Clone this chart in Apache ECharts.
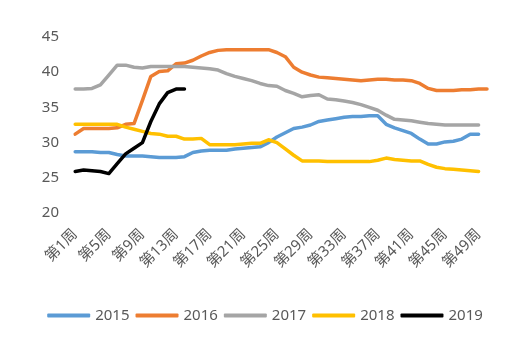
<!DOCTYPE html>
<html>
<head>
<meta charset="utf-8">
<script src="https://cdn.jsdelivr.net/npm/echarts@6/dist/echarts.min.js"></script>
<style>
html,body{margin:0;padding:0;background:#fff;}
#c{width:530px;height:348px;}
</style>
</head>
<body>
<div id="c"></div>
<script>
var weeks = [];
for (var i = 1; i <= 52; i++) weeks.push('第' + i + '周');

var seriesNames = ['2015', '2016', '2017', '2018', '2019'];

var s2015 = [28.7,28.7,28.7,28.6,28.6,28.3,28.1,28.1,28.1,28.0,27.9,27.9,27.9,28.0,28.6,28.8,28.9,28.9,28.9,29.1,29.2,29.3,29.4,30.0,30.8,31.4,32.0,32.2,32.5,33.0,33.2,33.4,33.6,33.7,33.7,33.8,33.8,32.6,32.1,31.7,31.3,30.5,29.8,29.8,30.1,30.2,30.5,31.2,31.2];
var s2016 = [31.2,32.0,32.0,32.0,32.0,32.1,32.6,32.7,36.0,39.4,40.1,40.2,41.2,41.3,41.7,42.3,42.8,43.1,43.2,43.2,43.2,43.2,43.2,43.2,42.8,42.2,40.7,40.0,39.6,39.3,39.2,39.1,39.0,38.9,38.8,38.9,39.0,39.0,38.9,38.9,38.8,38.4,37.7,37.4,37.4,37.4,37.5,37.5,37.6,37.6];
var s2017 = [37.6,37.6,37.7,38.2,39.6,41.0,41.0,40.7,40.6,40.8,40.8,40.8,40.8,40.8,40.7,40.6,40.5,40.3,39.8,39.4,39.1,38.8,38.4,38.1,38.0,37.4,37.0,36.5,36.7,36.8,36.2,36.1,35.9,35.7,35.4,35.0,34.6,33.9,33.3,33.2,33.1,32.9,32.7,32.6,32.5,32.5,32.5,32.5,32.5];
var s2018 = [32.6,32.6,32.6,32.6,32.6,32.6,32.2,31.9,31.6,31.3,31.2,30.9,30.9,30.5,30.5,30.6,29.7,29.7,29.7,29.7,29.8,29.9,29.9,30.4,30.0,29.1,28.2,27.4,27.4,27.4,27.3,27.3,27.3,27.3,27.3,27.3,27.5,27.8,27.6,27.5,27.4,27.4,26.9,26.5,26.3,26.2,26.1,26.0,25.9];
var s2019 = [25.9,26.1,26.0,25.9,25.6,27.0,28.4,29.2,30.0,33.0,35.5,37.1,37.6,37.6];

var yTicks = [20, 25, 30, 35, 40, 45];
var colors = ['#5B9BD5', '#ED7D31', '#A5A5A5', '#FFC000', '#000000'];
var allData = [s2015, s2016, s2017, s2018, s2019];

var FONT = '"Noto Sans", "Noto Sans CJK SC", sans-serif';

var chart = echarts.init(document.getElementById('c'), null, {renderer: 'canvas'});
chart.setOption({
  animation: false,
  backgroundColor: '#ffffff',
  color: colors,
  grid: {left: 71, right: 22, top: 37, bottom: 135, containLabel: false},
  legend: {
    data: seriesNames,
    top: 303,
    left: 'center',
    itemWidth: 43,
    itemHeight: 4,
    itemGap: 6,
    icon: 'roundRect',
    textStyle: {color: '#595959', fontSize: 15, fontFamily: FONT}
  },
  xAxis: {
    type: 'category',
    data: weeks,
    boundaryGap: true,
    axisLine: {show: false},
    axisTick: {show: false},
    axisLabel: {
      interval: 3,
      rotate: 45,
      margin: 19,
      color: '#595959',
      fontSize: 15,
      fontFamily: FONT
    },
    splitLine: {show: false}
  },
  yAxis: {
    type: 'value',
    min: yTicks[0],
    max: yTicks[yTicks.length - 1],
    interval: 5,
    axisLine: {show: false},
    axisTick: {show: false},
    splitLine: {show: false},
    axisLabel: {color: '#595959', fontSize: 15, fontFamily: FONT, margin: 12}
  },
  series: seriesNames.map(function (n, i) {
    return {
      name: n,
      type: 'line',
      data: allData[i],
      symbol: 'none',
      smooth: false,
      lineStyle: {width: 3.5, color: colors[i], cap: 'round', join: 'round'},
      itemStyle: {color: colors[i]}
    };
  })
});
</script>
</body>
</html>
